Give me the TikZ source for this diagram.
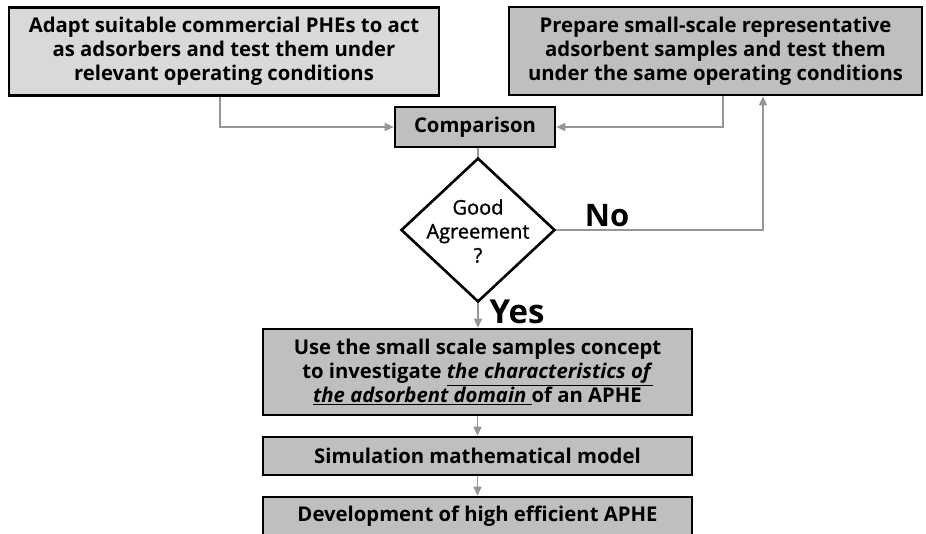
\documentclass[tikz,border=0pt]{standalone}
\usepackage{fontspec}
\setmainfont{Open Sans}
\newfontfamily\medfont{Open Sans}[FakeBold=1.3]
\usetikzlibrary{shapes.geometric,arrows.meta}
\begin{document}
\begin{tikzpicture}[x=1pt,y=-1pt,
  box/.style={draw=black,line width=2.6pt,fill=boxgray,align=center,inner sep=0pt,
    font=\bfseries\fontsize{20.3}{24}\selectfont},
  conn/.style={draw=conngray,line width=1.5pt},
  arr/.style={conn,-{Triangle[length=9pt,width=8pt]}},
  lbl/.style={font=\bfseries\fontsize{#1}{36}\selectfont,inner sep=0pt}]
\definecolor{boxgray}{HTML}{BFBFBF}
\definecolor{lightgray}{HTML}{D9D9D9}
\definecolor{conngray}{HTML}{969696}
\useasboundingbox (0,0) rectangle (926,533);
\node[box,fill=lightgray,minimum width=430pt,minimum height=88pt] (b1) at (224,51.5)
  {Adapt suitable commercial PHEs to act\\as adsorbers and test them under\\relevant operating conditions};
\node[box,minimum width=413pt,minimum height=88pt] (b2) at (715.5,51)
  {Prepare small-scale representative\\adsorbent samples and test them\\under the same operating conditions};
\node[box,minimum width=160pt,minimum height=40pt] (cmp) at (475,127) {Comparison};
\node[draw=black,line width=2.6pt,fill=white,shape=diamond,minimum width=154pt,minimum height=144pt,
  inner sep=0pt] (dia) at (478,230) {};
\node[align=center,inner sep=0pt,font=\medfont\fontsize{20}{24}\selectfont] (diatext) at (478,231)
  {Good\\Agreement\\?};
\node[box,minimum width=429pt,minimum height=86pt] (b3) at (477.5,372)
  {Use the small scale samples concept\\to investigate \underline{\textit{the characteristics of}}\\\underline{\textit{the adsorbent domain\ }}of an APHE};
\node[box,minimum width=429pt,minimum height=38pt] (b4) at (477.5,456) {Simulation mathematical model};
\node[box,minimum width=429pt,minimum height=38pt] (b5) at (477.5,516) {Development of high efficient APHE};
\node[lbl=31] (no) at (607,216) {No};
\node[lbl=33] (yes) at (517,312) {Yes};
\draw[arr] ([xshift=-4pt]b1.south) |- (cmp.west);
\draw[arr] ([xshift=7.5pt]b2.south) |- (cmp.east);
\draw[conn] (cmp.south -| dia.north) -- (dia.north);
\draw[arr] (dia.east) -| ([xshift=47.5pt]b2.south);
\draw[arr] (dia.south) -- (dia.south |- b3.north);
\draw[arr] (b3.south) -- (b4.north);
\draw[arr] (b4.south) -- (b5.north);
\end{tikzpicture}
\end{document}
